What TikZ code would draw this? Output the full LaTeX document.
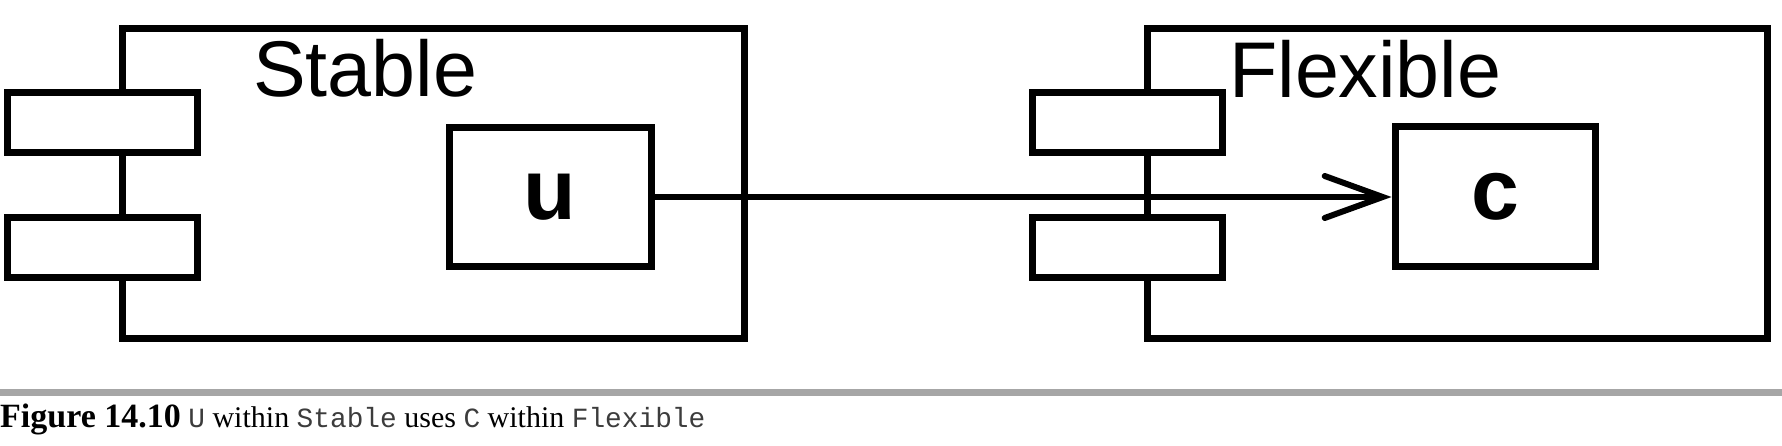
\documentclass[tikz,border=0pt]{standalone}
\usepackage{fontspec}
\setmainfont{Liberation Serif}
\setsansfont{Liberation Sans}
\setmonofont{Liberation Mono}
\usetikzlibrary{arrows.meta}
\definecolor{rulegray}{RGB}{166,166,166}
\definecolor{codegray}{RGB}{60,60,60}

\begin{document}
\begin{tikzpicture}[x=1pt,y=-1pt,
		compbox/.style={draw,line width=7pt,inner sep=0pt,outer sep=0pt,minimum width=622pt,minimum height=309pt},
		tabbox/.style={draw,fill=white,line width=7pt,inner sep=0pt,minimum width=190pt,minimum height=60pt},
		classbox/.style={draw,line width=7pt,inner sep=0pt,minimum width=202pt,minimum height=139pt,
			font=\sffamily\bfseries\fontsize{86}{90}\selectfont},
		pkgname/.style={anchor=base west,inner sep=0pt,font=\sffamily\fontsize{79}{90}\selectfont},
		uses/.style={line width=6pt,-{Straight Barb[length=58pt,width=42pt,line cap=round]}}]
			\useasboundingbox (0,0) rectangle (1782,446);
			% components
			\node[compbox] (stable) at (433,183.5) {};
			\node[compbox,minimum width=620pt] (flexible) at (1457,183.5) {};
			\node[tabbox] (stabletop) at (102,123) {};
			\node[tabbox] (stablebot) at (102,247.5) {};
			\node[tabbox] (flextop) at (1127,123) {};
			\node[tabbox] (flexbot) at (1127,247.5) {};
			\node[pkgname] (stablename) at (253,97) {Stable};
			\node[pkgname] (flexname) at (1229,98) {Flexible};
			% classes
			\node[classbox] (u) at (550,197) {u};
			\node[classbox,minimum width=200pt,minimum height=140pt] (c) at (1495,197) {c};
			\draw[uses] (u) -- (c);
			% caption
			\draw[rulegray,line width=7pt] (0,392.5) -- (1782,392.5);
			\node[anchor=base west,inner sep=0pt] (caption) at (0,427)
				{{\fontsize{34}{40}\selectfont\bfseries Figure 14.10}\fontsize{30}{36}\selectfont\
				{\ttfamily\fontsize{27.8}{32}\selectfont\color{codegray}U} within {\ttfamily\fontsize{27.8}{32}\selectfont\color{codegray}Stable}
				uses {\ttfamily\fontsize{27.8}{32}\selectfont\color{codegray}C} within {\ttfamily\fontsize{27.8}{32}\selectfont\color{codegray}Flexible}};
		\end{tikzpicture}
\end{document}
